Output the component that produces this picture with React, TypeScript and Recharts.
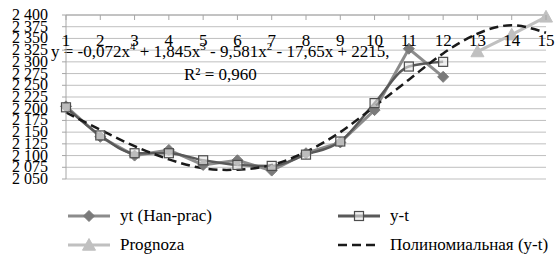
import React from 'react';
import { ComposedChart, Line, XAxis, YAxis, CartesianGrid, Customized } from 'recharts';

const periods = [1, 2, 3, 4, 5, 6, 7, 8, 9, 10, 11, 12, 13, 14, 15];
const ytHanPrac = [2205, 2140, 2100, 2112, 2080, 2090, 2068, 2105, 2128, 2197, 2328, 2268, null, null, null];
const yMinusT = [2203, 2143, 2105, 2105, 2090, 2080, 2078, 2102, 2130, 2212, 2290, 2300, null, null, null];
const prognoza = [null, null, null, null, null, null, null, null, null, null, null, null, 2322, 2358, 2396];
const polyTrend = [2192, 2155, 2120, 2092, 2073, 2070, 2080, 2108, 2150, 2205, 2262, 2318, 2360, 2378, 2362];
const yTicks = [2050, 2075, 2100, 2125, 2150, 2175, 2200, 2225, 2250, 2275, 2300, 2325, 2350, 2375, 2400];
const seriesNames = ['yt (Han-prac)', 'y-t', 'Prognoza', 'Полиномиальная (y-t)'];

const data = periods.map((p, i) => ({
  x: p,
  yt: ytHanPrac[i],
  ymt: yMinusT[i],
  prog: prognoza[i],
  poly: polyTrend[i],
}));

const FONT = "'Liberation Serif', 'Times New Roman', Times, 'DejaVu Serif', serif";
const fontStyle = { fontFamily: FONT };

const fmt = (v: number) => `${Math.floor(v / 1000)} ${String(v % 1000).padStart(3, '0')}`;

const Diamond = (props: any) => {
  const { cx, cy } = props;
  if (cx == null || cy == null || props.value == null) return <g key={props.key} />;
  const r = 5.5;
  return <path key={props.key} d={`M${cx},${cy - r}L${cx + r},${cy}L${cx},${cy + r}L${cx - r},${cy}Z`} fill="#7a7a7a" stroke="#7a7a7a" strokeWidth={1} />;
};
const Square = (props: any) => {
  const { cx, cy } = props;
  if (cx == null || cy == null || props.value == null) return <g key={props.key} />;
  const r = 4.5;
  return <rect key={props.key} x={cx - r} y={cy - r} width={2 * r} height={2 * r} fill="#e8e8e8" fillOpacity={0.6} stroke="#4d4d4d" strokeWidth={1.2} />;
};
const Triangle = (props: any) => {
  const { cx, cy } = props;
  if (cx == null || cy == null || props.value == null) return <g key={props.key} />;
  const r = 6.5;
  return <path key={props.key} d={`M${cx},${cy - r}L${cx + r},${cy + r * 0.8}L${cx - r},${cy + r * 0.8}Z`} fill="#c0c0c0" stroke="#c0c0c0" />;
};

const XTick = (props: any) => {
  const { x, payload } = props;
  return (
    <g>
      <line x1={x} x2={x} y1={15} y2={20} stroke="#a6a6a6" />
      <text x={x} y={46} textAnchor="middle" style={fontStyle} fontSize={17} fill="#000">{payload.value}</text>
    </g>
  );
};

const YTick = (props: any) => {
  const { x, y, payload } = props;
  return (
    <text x={x - 12} y={y + 5} textAnchor="end" style={fontStyle} fontSize={16} fill="#000">{fmt(payload.value)}</text>
  );
};

const Annotations = () => (
  <g style={fontStyle} fill="#000">
    <text x={51} y={57} fontSize={17} style={fontStyle}>
      <tspan>y = -0,072x</tspan>
      <tspan dy={-7} fontSize={11}>4</tspan>
      <tspan dy={7}> + 1,845x</tspan>
      <tspan dy={-7} fontSize={11}>3</tspan>
      <tspan dy={7}> - 9,581x</tspan>
      <tspan dy={-7} fontSize={11}>2</tspan>
      <tspan dy={7}> - 17,65x + 2215,</tspan>
    </text>
    <text x={184} y={80} fontSize={17} style={fontStyle}>
      <tspan>R² = 0,960</tspan>
    </text>
  </g>
);

const LegendItems = () => {
  const rows = [
    { x: 68, y: 216, name: seriesNames[0], color: '#8c8c8c', marker: 'diamond', dash: undefined as string | undefined },
    { x: 338, y: 216, name: seriesNames[1], color: '#595959', marker: 'square', dash: undefined },
    { x: 68, y: 245, name: seriesNames[2], color: '#c0c0c0', marker: 'triangle', dash: undefined },
    { x: 338, y: 245, name: seriesNames[3], color: '#1a1a1a', marker: 'none', dash: '9 5' },
  ];
  return (
    <g style={fontStyle}>
      {rows.map((r) => {
        const cx = r.x + 21;
        return (
          <g key={r.name}>
            <line x1={r.x} x2={r.x + 42} y1={r.y} y2={r.y} stroke={r.color} strokeWidth={r.dash ? 2.5 : 3} strokeDasharray={r.dash} />
            {r.marker === 'diamond' && <Diamond cx={cx} cy={r.y} value={1} key="d" />}
            {r.marker === 'square' && <Square cx={cx} cy={r.y} value={1} key="s" />}
            {r.marker === 'triangle' && <Triangle cx={cx} cy={r.y} value={1} key="t" />}
            <text x={r.x + 52} y={r.y + 5} fontSize={17} fill="#000" style={fontStyle}>{r.name}</text>
          </g>
        );
      })}
    </g>
  );
};

export default function App() {
  return (
    <div style={{ position: 'absolute', left: 0, top: 0, width: 556, height: 254, background: '#fff', fontFamily: FONT }}>
      <ComposedChart width={556} height={254} data={data} margin={{ top: 0, right: 10, left: 0, bottom: 75 }} style={fontStyle}>
        <CartesianGrid vertical={false} stroke="#bfbfbf" strokeWidth={1} />
        <XAxis
          dataKey="x"
          type="number"
          domain={[1, 15]}
          ticks={periods}
          orientation="top"
          height={15}
          axisLine={{ stroke: '#a6a6a6' }}
          tickLine={false}
          tick={<XTick />}
          interval={0}
        />
        <YAxis
          domain={[2050, 2400]}
          ticks={yTicks}
          width={66}
          interval={0}
          axisLine={{ stroke: '#a6a6a6' }}
          tickLine={{ stroke: '#a6a6a6' }}
          tickSize={4}
          tick={<YTick />}
        />
        <Line dataKey="yt" type="linear" stroke="#8c8c8c" strokeWidth={3} dot={Diamond} isAnimationActive={false} />
        <Line dataKey="ymt" type="monotone" stroke="#595959" strokeWidth={2.5} dot={Square} isAnimationActive={false} />
        <Line dataKey="prog" type="linear" stroke="#c0c0c0" strokeWidth={3} dot={Triangle} isAnimationActive={false} />
        <Line dataKey="poly" type="natural" stroke="#1a1a1a" strokeWidth={2.5} strokeDasharray="9 5" dot={false} isAnimationActive={false} />
        <Customized component={Annotations} />
        <Customized component={LegendItems} />
      </ComposedChart>
    </div>
  );
}
